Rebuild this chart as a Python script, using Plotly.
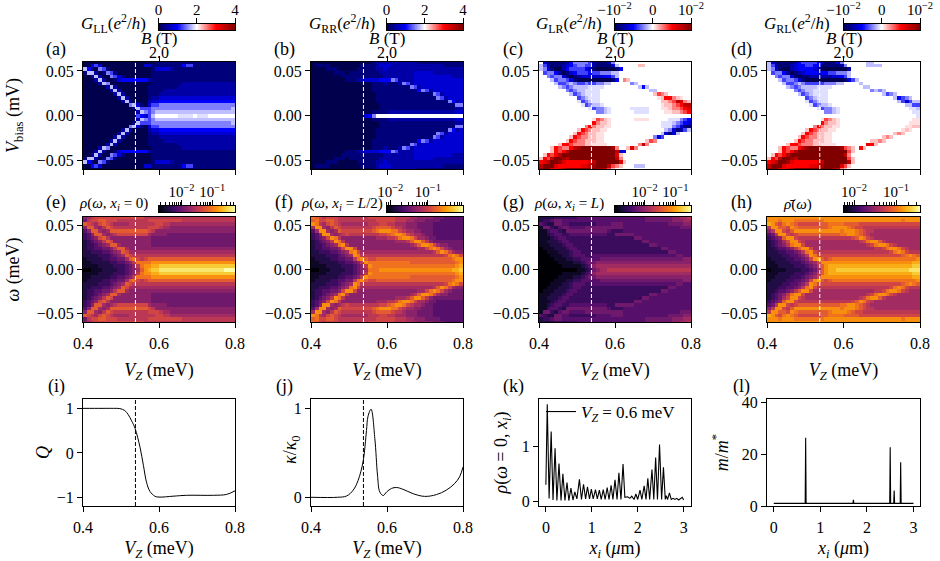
"""
Conductance / LDOS overview: 4 columns x 3 rows of panels
"""
import math
import plotly.graph_objects as go

W, H = 940, 561
FONT = "Liberation Serif"

VZ_CELLS = [0.405, 0.415, 0.425, 0.435, 0.445, 0.455, 0.465, 0.475, 0.485, 0.495,
            0.505, 0.515, 0.525, 0.535, 0.545, 0.555, 0.565, 0.575, 0.585, 0.595,
            0.605, 0.615, 0.625, 0.635, 0.645, 0.655, 0.665, 0.675, 0.685, 0.695,
            0.705, 0.715, 0.725, 0.735, 0.745, 0.755, 0.765, 0.775, 0.785, 0.795]
ENERGY = [0.06, 0.056, 0.052, 0.048, 0.044, 0.04, 0.036, 0.032, 0.028, 0.024, 0.02,
          0.016, 0.012, 0.008, 0.004, 0.0, -0.004, -0.008, -0.012, -0.016, -0.02,
          -0.024, -0.028, -0.032, -0.036, -0.04, -0.044, -0.048, -0.052, -0.056, -0.06]
VZ_CUT = 0.538

# cell levels, one base-36 digit per cell, 0..g maps onto the colour range
# w and x are the half steps either side of the middle (8)
# G_LL, G_RR and the rho maps are read for omega >= 0 and mirrored
G_LL_ROWS = [
    "0000000000" "0000000001" "1111111111" "1111111111",
    "0045300000" "0000003311" "1111114551" "1111111111",
    "7410651000" "0000000013" "3332111111" "1111111111",
    "1772016510" "0000000011" "1111111111" "1111111111",
    "0027200653" "1000000011" "1111111111" "1111111111",
    "0002720013" "4444444211" "1111111111" "1111111111",
    "0000276000" "0000000011" "1111112222" "2222222222",
    "0000002720" "0000000111" "1111122222" "2222222222",
    "0000000272" "0000000111" "1222222222" "2222222222",
    "0000000027" "2000000111" "2222222222" "2222222222",
    "0000000002" "7200000122" "3333333333" "3333333333",
    "0000000000" "2720000233" "4444444444" "4444444444",
    "0000000000" "0067310355" "6666666666" "6666666666",
    "0000000000" "0001755566" "6666666666" "6666666667",
    "0000000000" "0000276567" "7777777777" "7777777777",
    "0000000000" "0000543578" "88888wwww8" "www8888888",
]
G_RR_ROWS = [
    "0000000000" "0000001222" "2222222211" "1111111111",
    "0111100000" "0001111233" "3222222222" "2222211111",
    "0000111000" "0011111223" "2222222222" "2222222222",
    "0000001110" "1111111122" "2222222333" "3322222222",
    "0000000011" "1111111112" "2222222333" "3333333222",
    "0000000001" "1122333344" "4652222333" "3333333333",
    "0000000000" "0000001112" "1112652333" "3333333333",
    "0000000000" "0000001111" "1111116523" "3333333333",
    "0000000000" "0000001111" "1111111146" "5233333333",
    "0000000000" "0000000111" "1111111111" "1165233333",
    "0000000000" "0000000111" "1111111111" "1116523333",
    "0000000000" "0000000111" "1111111111" "1111116423",
    "0000000000" "0000000011" "1111111111" "1111111166",
    "0000000000" "0000000011" "1111111111" "1111111122",
    "0000000000" "0000001111" "2222222222" "2222222233",
    "0000000000" "0000346888" "8888888888" "8888888888",
]
G_LR_ROWS = [
    "8311111246" "6665211126" "8888888888" "8888888888",
    "7521112345" "6655211113" "7888889988" "8888888888",
    "7631002455" "5543100000" "1488888888" "8888888888",
    "8566420134" "5554556667" "7888888888" "8888888888",
    "8865663101" "2333333445" "7888888888" "8888888888",
    "8887566531" "0000000001" "48a9888888" "8888888888",
    "8888755676" "5565566778" "8888678888" "8888888888",
    "8888876567" "777wwww888" "8888887478" "8888888888",
    "8888888656" "77wwww8888" "8888888887" "7888888888",
    "8888888875" "67wwww8888" "8888888888" "9ba9888888",
    "8888888888" "567www8888" "8888888888" "8x9cca9x88",
    "8888888888" "w567ww8888" "8888888888" "8899abeda9",
    "8888888888" "8w5677w888" "8888888888" "88x99abcee",
    "8888888888" "888w5667w8" "8888wwwww8" "88xx9aabcd",
    "8888888888" "88888667w8" "88888wwww8" "888xx99abc",
    "8888888888" "8888888888" "8888888888" "8888888888",
    "8888888888" "8888xba9x8" "88888xxxx8" "8888www654",
    "8888888888" "8888ca99x8" "8888888888" "88www76543",
    "8888888888" "88aca99xx8" "8888888888" "88www65311",
    "8888888888" "9cba99xx88" "8888888888" "8887631257",
    "8888888889" "cba99xx888" "8888888888" "8873137888",
    "888888889c" "baa99xx888" "8888888888" "6358888888",
    "88888889cb" "aa999xx888" "888888889b" "a888888888",
    "888889ccba" "aa99xxxx88" "888888aea8" "8888888888",
    "8889cbaace" "fggggggggf" "a889da8888" "8888888888",
    "8889cbcegg" "gggggggggg" "e348888888" "8888888888",
    "89cbcegggg" "gggggggggg" "d988888888" "8888888888",
    "9cbeggfegg" "gggggggggg" "ea88888888" "8888888888",
    "cdeggfdccc" "cccdeggggg" "gd98888888" "8888888888",
    "egggdccccc" "cddefgggeb" "a988877788" "8888888888",
    "fggdcdeggg" "gggggffdb9" "8888888888" "8888888888",
]
G_RL_ROWS = [
    "7311111245" "5554211136" "8888887788" "8888888888",
    "7521112344" "5544111112" "6888887777" "8888888888",
    "7631002344" "4432000000" "0288888888" "8888888888",
    "8566420123" "4443445566" "6788888888" "8888888888",
    "8865663101" "1222222334" "5788888888" "8888888888",
    "8887566531" "0000000000" "1357888888" "8888888888",
    "8888755676" "5555566677" "8888788888" "8888888888",
    "8888876567" "777wwww888" "8888877888" "8888888888",
    "8888888656" "77wwww8888" "8888888676" "7888888888",
    "8888888875" "67wwww8888" "8888888888" "7567888888",
    "8888888888" "567www8888" "8888888888" "8887456788",
    "8888888888" "w567ww8888" "8888888888" "8888753577",
    "8888888888" "8w5677w888" "8888888888" "8888887755",
    "8888888888" "888w5667w8" "8888888888" "8888888ww7",
    "8888888888" "88888667w8" "8888888888" "88888888ww",
    "8888888888" "8888888888" "8888888888" "888888888w",
    "8888888888" "8888xba9x8" "8888888888" "88888888xx",
    "8888888888" "8888ca99x8" "8888888888" "8888888xxx",
    "8888888888" "88aca99xx8" "8888888888" "888888xx99",
    "8888888888" "9cba99xx88" "8888888888" "88888x9x88",
    "8888888889" "cba99xx888" "8888888888" "8889a98888",
    "888888889c" "baa99xx888" "8888888888" "9a98888888",
    "88888889cb" "aa999xx888" "888888899a" "9888888888",
    "888889ccba" "aa99xxxx88" "888888dc98" "8888888888",
    "8889cbaace" "fggggggggf" "ba98c98888" "8888888888",
    "8889cbcegg" "gggggggggg" "gb98888888" "8888888888",
    "89cbcegggg" "gggggggggg" "ea88888888" "8888888888",
    "9cbeggfegg" "gggggggggg" "gb98888888" "8888888888",
    "cdeggfdccc" "cccdeggggg" "ge98888888" "8888888888",
    "egggdccccc" "cddefggggd" "b988888888" "8888888888",
    "fggdcdeggg" "gggggggfda" "9888888888" "8888888888",
]
RHO_0_ROWS = [
    "6789999999" "9999998888" "8888888888" "8888888888",
    "5899aa9998" "8888888999" "9999998888" "8888888888",
    "a9879a9877" "7788888889" "9887777777" "7777777777",
    "6aa768a988" "8888888999" "8776666666" "6666666666",
    "46aa767aaa" "aaaaaaa986" "6666666666" "6666666666",
    "346aa76789" "9999999766" "6655555555" "5555555555",
    "34569a8666" "6666666655" "5555555555" "5555555555",
    "234568a966" "6666666655" "5555555555" "5555555555",
    "2334567aa7" "6666666655" "5555555555" "5555555555",
    "233445568a" "a766666666" "6666666666" "6666666666",
    "2233344567" "a977777777" "7777777777" "7777777777",
    "2222333456" "7a98888888" "8888888888" "8888888888",
    "1222233445" "57ab989aaa" "aaaaaaaaaa" "aaaaaaaaaa",
    "1122222334" "4568bbbbcc" "cccccccccc" "cccccccccc",
    "1111222233" "34568bccdd" "eeeeeeeeee" "eeeeeeeeee",
    "0011122223" "34567acdee" "ffffffffff" "fffffffggg",
]
RHO_MID_ROWS = [
    "ba98999888" "8888899999" "9988887766" "6655544444",
    "ab99aa9888" "8888888999" "9988877666" "5555444444",
    "cb879a9877" "7777788899" "8877766655" "5544444444",
    "7cc768a988" "8888889aaa" "a988766655" "5544444444",
    "47cc767a99" "999999abcc" "cbb9877665" "5544444444",
    "346cc76789" "8888888899" "abccb98776" "5544444444",
    "34569cb866" "6666666777" "889bccb977" "6554444444",
    "234568cb86" "6666666666" "667778acca" "8655555555",
    "2334567bc8" "6666666666" "66666678ac" "cb97665555",
    "233445569c" "c966666666" "6666666677" "9bcb976555",
    "2233344567" "bc97777777" "7777777777" "778acb9766",
    "2222333456" "7cb8888888" "8888888888" "888889bcb9",
    "1222233445" "58bca99aaa" "aaaaaaaaaa" "aaaaaaabcc",
    "1122222334" "4568cbbbbb" "bbbbbbaaaa" "aaaaaaaabc",
    "1111222233" "34568cbbbb" "bbbbbbbbbb" "bbbbbbbbcd",
    "0011122223" "34567bbbcc" "cccccccccc" "cccccccdde",
]
RHO_L_ROWS = [
    "2222333333" "4444444444" "4444444455" "5555566778",
    "2334554444" "4444444444" "4444444455" "5555566677",
    "4322554433" "3333344445" "5544444444" "4444555566",
    "1553245544" "4455555555" "5544444444" "4444444555",
    "1134432555" "5555555543" "3344444444" "4444444444",
    "1123443344" "4444444433" "5555544444" "4444444444",
    "1112344333" "3333333333" "3333355444" "4444444444",
    "1122234433" "3333333333" "3333333554" "4444444444",
    "1112223443" "3333333333" "3333333335" "5444444444",
    "0111222344" "3333333333" "3333333333" "3355444444",
    "0011122234" "4333333333" "3333333333" "3333554444",
    "0001112234" "4433444444" "4444444444" "4444445544",
    "0000111223" "3444445555" "5555555555" "5555555566",
    "0000011112" "2345566666" "6666666666" "6666666666",
    "0000001111" "1234677777" "7777777777" "7777777777",
    "0000000000" "1123567788" "8888888888" "8888888888",
]
RHO_AVG_ROWS = [
    "cccccccccc" "cccccccccc" "cccccccccc" "cccccccccc",
    "cccbcccbbb" "bbbbbccccc" "cccccccccc" "cccccbcccc",
    "dca9bcba99" "9999aabbbb" "aaaa999999" "9999999999",
    "8ccaa9cbaa" "aaaaaabccc" "cba9988888" "8888888888",
    "68cc98accc" "cccccccccb" "cccba98877" "7777777777",
    "458cc989aa" "aaaaaaaaab" "bccba98777" "7777777777",
    "3456acc988" "8888888888" "889acb9877" "7777777777",
    "234579cc98" "7777777777" "777789bcca" "8777777777",
    "234568bcc9" "7777777777" "77777789bc" "cb98777777",
    "22344568ac" "c977777777" "7777777788" "9bccb98777",
    "2223344568" "bc98888888" "8888888888" "889bcb9888",
    "2222334456" "8cb9999999" "9999999999" "99999abcba",
    "1222233445" "69cda9abbb" "bbbbbbbbbb" "bbbbbbbbbc",
    "1122223334" "5679cccccc" "cccccccccc" "ccccccccdd",
    "1112222333" "4568acdddd" "dddddddddd" "ddddddddee",
    "0111122223" "3457acddee" "eeeeeeeeee" "eeeeeeefff",
]

VZ_Q = [0.4, 0.45, 0.48, 0.497, 0.51, 0.519, 0.528, 0.537, 0.55, 0.559, 0.567, 0.576,
        0.589, 0.6, 0.637, 0.673, 0.743, 0.778, 0.8]
Q_VALUES = [1.0, 1.0, 1.0, 0.995, 0.95, 0.86, 0.72, 0.55, 0.13, -0.28, -0.65, -0.86,
            -0.97, -0.99, -0.97, -0.95, -0.95, -0.93, -0.85]
VZ_KAPPA = [0.4, 0.47, 0.494, 0.511, 0.524, 0.537, 0.546, 0.55, 0.558, 0.568, 0.575, 0.581,
            0.59, 0.599, 0.612, 0.625, 0.642, 0.669, 0.699, 0.73, 0.756, 0.778, 0.791, 0.8]
KAPPA_VALUES = [0.0, 0.0, 0.015, 0.08, 0.19, 0.4, 0.75, 0.91, 0.99, 0.66, 0.25, 0.06,
                0.02, 0.06, 0.1, 0.11, 0.09, 0.04, 0.01, 0.03, 0.08, 0.155, 0.23, 0.34]
X_RHO = [0, .03, .07, .115, .155, .2, .24, .285, .33, .37, .415, .46, .5, .545, .59, .63,
         .675, .73, .775, .82, .865, .905, .95, .99, 1.03, 1.08, 1.12, 1.165, 1.205, 1.25,
         1.29, 1.335, 1.375, 1.42, 1.46, 1.505, 1.55, 1.59, 1.635, 1.68, 1.72, 1.78, 1.83,
         1.87, 1.92, 1.96, 2.0, 2.05, 2.09, 2.14, 2.18, 2.22, 2.26, 2.31, 2.35, 2.39, 2.43,
         2.475, 2.52, 2.56, 2.6, 2.62, 2.65, 2.69, 2.73, 2.77, 2.81, 2.85, 2.89, 2.93, 2.97, 3.0]
RHO_VALUES = [.3, 1.78, .05, 1.28, .02, .97, .01, .69, .01, .5, .01, .34, .01, .24, .02, .17,
              .04, .4, .03, .31, .04, .26, .04, .22, .04, .21, .04, .2, .03, .21,
              .03, .25, .03, .29, .03, .39, .03, .52, .03, .68, .07, .08, .05,
              .09, .03, .13, .03, .2, .03, .28, .03, .42, .03, .58, .03, .8, .03,
              1.04, .03, .62, .03, .1, .03, .15, .03, .05, .03, .05, .02, .04, .07, .02]
X_MASS = [0, .675, .685, .695, 1.70, 1.71, 1.72, 2.49, 2.5, 2.51, 2.575, 2.585, 2.595,
          2.715, 2.725, 2.735, 3.0]
MASS_VALUES = [1, 1, 26.5, 1, 1, 2.4, 1, 1, 22.8, 1, 1, 6, 1, 1, 17, 1, 1]

COL_PX = [(83, 235), (311, 463), (539, 691), (767, 920)]
ROW_PX = [(62, 169), (217, 322), (399, 506)]
SEISMIC = [[0, "rgb(0,0,77)"], [0.25, "rgb(0,0,255)"], [0.5, "rgb(255,255,255)"],
           [0.75, "rgb(255,0,0)"], [1, "rgb(128,0,0)"]]
HALF_STEPS = {"w": 7.5, "x": 8.5}


def ax(letter, i):
    return letter if i == 1 else f"{letter}{i}"


def decode(rows, lo, hi, mirror=False):
    if mirror:
        rows = rows + rows[-2::-1]
    assert len(rows) == len(ENERGY), len(rows)
    for r in rows:
        assert len(r) == len(VZ_CELLS), r
    return [[lo + (hi - lo) * HALF_STEPS.get(c, int(c, 36)) / 16 for c in r] for r in rows]


def log_ticks(lo, hi):
    major, text, minor = [], [], []
    for n in range(-4, 1):
        for k in range(1, 10):
            v = n + math.log10(k)
            if lo <= v <= hi:
                if k == 1:
                    major.append(v)
                    text.append(f"10<sup>\u2212{-n}</sup>")
                else:
                    minor.append(v)
    return major, text, minor


def axis_style(**kw):
    base = dict(showline=True, linecolor="black", linewidth=1, mirror=True, ticks="outside",
                ticklen=5, tickwidth=1, tickcolor="black", showgrid=False, zeroline=False,
                tickfont=dict(family=FONT, size=16, color="black"))
    base.update(kw)
    return base


def title(text, standoff):
    return dict(text=text, standoff=standoff, font=dict(family=FONT, size=18, color="black"))


def add_bar(n, col, top, scale, lo, hi, major, text, minor=None):
    # horizontal colour scale drawn on its own small axes, ticks on top
    right = COL_PX[col][1]
    steps = [lo + (hi - lo) * k / 128 for k in range(129)]
    fig.add_trace(go.Heatmap(x=steps, y=[0], z=[steps], zmin=lo, zmax=hi, colorscale=scale, showscale=False,
                             xaxis=f"x{n}", yaxis=f"y{n}", hoverinfo="skip"))
    xa = axis_style(domain=[(right - 76.5) / W, right / W], anchor=f"y{n}", side="top", range=[lo, hi],
                    tickvals=major, ticktext=text, ticklabelstandoff=-3,
                    tickfont=dict(family=FONT, size=15, color="black"))
    if minor:
        xa["minor"] = dict(tickvals=minor, ticks="outside", ticklen=3, tickwidth=1, tickcolor="black", showgrid=False)
    layout[f"xaxis{n}"] = xa
    layout[f"yaxis{n}"] = axis_style(domain=[1 - (top + 6) / H, 1 - top / H], anchor=f"x{n}", range=[-0.5, 0.5],
                                     ticks="", showticklabels=False)


def note(text, x, y, size=18, angle=0):
    fig.add_annotation(text=text, xref="paper", yref="paper", x=x / W, y=1 - y / H, showarrow=False,
                       xanchor="center", yanchor="middle", textangle=angle,
                       font=dict(family=FONT, size=size, color="black"))


def cut_line(i, color):
    fig.add_shape(type="line", xref=ax("x", i), yref=ax("y", i) + " domain", x0=VZ_CUT, x1=VZ_CUT,
                  y0=0, y1=1, line=dict(color=color, width=1, dash="4px,2px"))


fig = go.Figure()
layout = {}

# axes for the 12 panels
for r, (top, bottom) in enumerate(ROW_PX):
    for c, (left, right) in enumerate(COL_PX):
        i = r * 4 + c + 1
        layout[ax("xaxis", i)] = axis_style(domain=[left / W, right / W], anchor=ax("y", i),
                                            range=[0.4, 0.8], tickvals=[0.4, 0.6, 0.8], tickformat=".1f",
                                            showticklabels=r > 0, ticklabelstandoff=2,
                                            title=title("<i>V<sub>Z</sub></i> (meV)", 10) if r > 0 else None)
        layout[ax("yaxis", i)] = axis_style(domain=[1 - bottom / H, 1 - top / H], anchor=ax("x", i),
                                            range=[-0.06, 0.06], tickvals=[-0.05, 0, 0.05], tickformat=".2f")

# conductance maps
G_TICKS = ["\u221210<sup>\u22122</sup>", "0", "10<sup>\u22122</sup>"]
G_MAPS = [(G_LL_ROWS, 0, 4, True, [0, 2, 4], ["0", "2", "4"]),
          (G_RR_ROWS, 0, 4, True, [0, 2, 4], ["0", "2", "4"]),
          (G_LR_ROWS, -0.01, 0.01, False, [-0.01, 0, 0.01], G_TICKS),
          (G_RL_ROWS, -0.01, 0.01, False, [-0.01, 0, 0.01], G_TICKS)]
for c, (rows, lo, hi, mirrored, tv, tt) in enumerate(G_MAPS):
    i = c + 1
    fig.add_trace(go.Heatmap(x=VZ_CELLS, y=ENERGY, z=decode(rows, lo, hi, mirrored), zmin=lo, zmax=hi,
                             colorscale=SEISMIC, showscale=False, xaxis=ax("x", i), yaxis=ax("y", i)))
    cut_line(i, "white")
    add_bar(17 + c, c, 24, SEISMIC, lo, hi, tv, tt)
    # top field axis
    j = 13 + c
    fig.add_trace(go.Scatter(x=[], y=[], xaxis=f"x{j}", yaxis=ax("y", i), showlegend=False))
    layout[f"xaxis{j}"] = axis_style(overlaying=ax("x", i), anchor=ax("y", i), side="top", mirror=False,
                                     range=[0.4, 0.8], tickvals=[0.6], ticktext=["2.0"],
                                     ticklabelstandoff=-8)

# LDOS maps, log10 of rho
RHO_MAPS = [(RHO_0_ROWS, -2.75, -0.26), (RHO_MID_ROWS, -2.1, -0.07),
            (RHO_L_ROWS, -2.98, -0.49), (RHO_AVG_ROWS, -2.25, -0.43)]
for c, (rows, lo, hi) in enumerate(RHO_MAPS):
    i = 5 + c
    fig.add_trace(go.Heatmap(x=VZ_CELLS, y=ENERGY, z=decode(rows, lo, hi, True), zmin=lo, zmax=hi,
                             colorscale="Inferno", showscale=False, xaxis=f"x{i}", yaxis=f"y{i}"))
    cut_line(i, "white")
    major, text, minor = log_ticks(lo, hi)
    add_bar(21 + c, c, 206, "Inferno", lo, hi, major, text, minor)

line = dict(color="black", width=1.1)
fig.add_trace(go.Scatter(x=VZ_Q, y=Q_VALUES, mode="lines", line=dict(color="black", width=1, shape="spline"),
                         xaxis="x9", yaxis="y9", showlegend=False))
fig.add_trace(go.Scatter(x=VZ_KAPPA, y=KAPPA_VALUES, mode="lines", line=dict(color="black", width=1, shape="spline"),
                         xaxis="x10", yaxis="y10", showlegend=False))
fig.add_trace(go.Scatter(x=X_RHO, y=RHO_VALUES, mode="lines", line=line, xaxis="x11", yaxis="y11",
                         name="<i>V<sub>Z</sub></i> = 0.6 meV", showlegend=True))
fig.add_trace(go.Scatter(x=X_MASS, y=MASS_VALUES, mode="lines", line=line, xaxis="x12", yaxis="y12",
                         showlegend=False))
cut_line(9, "black")
cut_line(10, "black")

layout["yaxis9"].update(range=[-1.19, 1.21], tickvals=[-1, 0, 1], tickformat="d")
layout["yaxis10"].update(range=[-0.098, 1.105], tickvals=[0, 1], tickformat="d")
layout["yaxis11"].update(range=[-0.09, 1.877], tickvals=[0, 1], tickformat="d")
layout["yaxis12"].update(range=[0, 41.5], tickvals=[0, 20, 40], tickformat="d")
layout["xaxis11"].update(range=[-0.15, 3.16], tickvals=[0, 1, 2, 3], tickformat="d",
                         title=title("<i>x<sub>i</sub></i> (<i>\u03bc</i>m)", 10))
layout["xaxis12"].update(range=[-0.145, 3.14], tickvals=[0, 1, 2, 3], tickformat="d",
                         title=title("<i>x<sub>i</sub></i> (<i>\u03bc</i>m)", 10))
for i in (5, 6, 7, 8):
    layout[f"xaxis{i}"]["title"]["standoff"] = 12
for i in (9, 10, 11, 12):
    layout[f"xaxis{i}"]["title"]["standoff"] = 8

layout["yaxis"]["title"] = title("<i>V</i><sub>bias</sub> (mV)", 12)
layout["yaxis5"]["title"] = title("<i>\u03c9</i> (meV)", 12)
layout["yaxis9"]["title"] = title("<i>Q</i>", 2)
layout["yaxis11"]["title"] = title("<i>\u03c1</i>(<i>\u03c9</i> = 0, <i>x<sub>i</sub></i>)", 9)
layout["yaxis12"]["title"] = title("<i>m</i>/<i>m</i><sup>*</sup>", 8)
note("<i>\u03ba</i>/<i>\u03ba</i><sub>0</sub>", 291, 450, 18, -90)

# panel letters
LETTERS = ["(a)", "(b)", "(c)", "(d)", "(e)", "(f)", "(g)", "(h)", "(i)", "(j)", "(k)", "(l)"]
LETTER_X = [56, 284, 513, 741]
LETTER_Y = [49, 203, 386]
for n, text in enumerate(LETTERS):
    note(text, LETTER_X[n % 4], LETTER_Y[n // 4])

# colorbar captions and the field axis title
CAPTION_X = [113, 342, 569, 797]
G_CAPTIONS = ["LL", "RR", "LR", "RL"]
for x, sub in zip(CAPTION_X, G_CAPTIONS):
    note(f"<i>G</i><sub>{sub}</sub>(<i>e</i><sup>2</sup>/<i>h</i>)", x, 23, 17)
RHO_CAPTIONS = ["<i>\u03c1</i>(<i>\u03c9</i>, <i>x<sub>i</sub></i> = 0)",
                "<i>\u03c1</i>(<i>\u03c9</i>, <i>x<sub>i</sub></i> = <i>L</i>/2)",
                "<i>\u03c1</i>(<i>\u03c9</i>, <i>x<sub>i</sub></i> = <i>L</i>)",
                "<i>\u03c1\u0304</i>(<i>\u03c9</i>)"]
for x, text in zip(CAPTION_X, RHO_CAPTIONS):
    note(text, x, 204, 15)
for left, right in COL_PX:
    note("<i>B</i> (T)", (left + right) / 2, 38, 17)

fig.update_layout(
    width=W, height=H, margin=dict(l=0, r=0, t=0, b=0, autoexpand=False),
    plot_bgcolor="white", paper_bgcolor="white", font=dict(family=FONT, color="black"),
    legend=dict(x=541 / W, y=1 - 412 / H, xanchor="left", yanchor="middle", bgcolor="rgba(0,0,0,0)",
                font=dict(family=FONT, size=17, color="black")),
    **layout,
)

fig.write_html("out.html", post_script="document.body.style.margin='0';",
               config={"displayModeBar": False})
